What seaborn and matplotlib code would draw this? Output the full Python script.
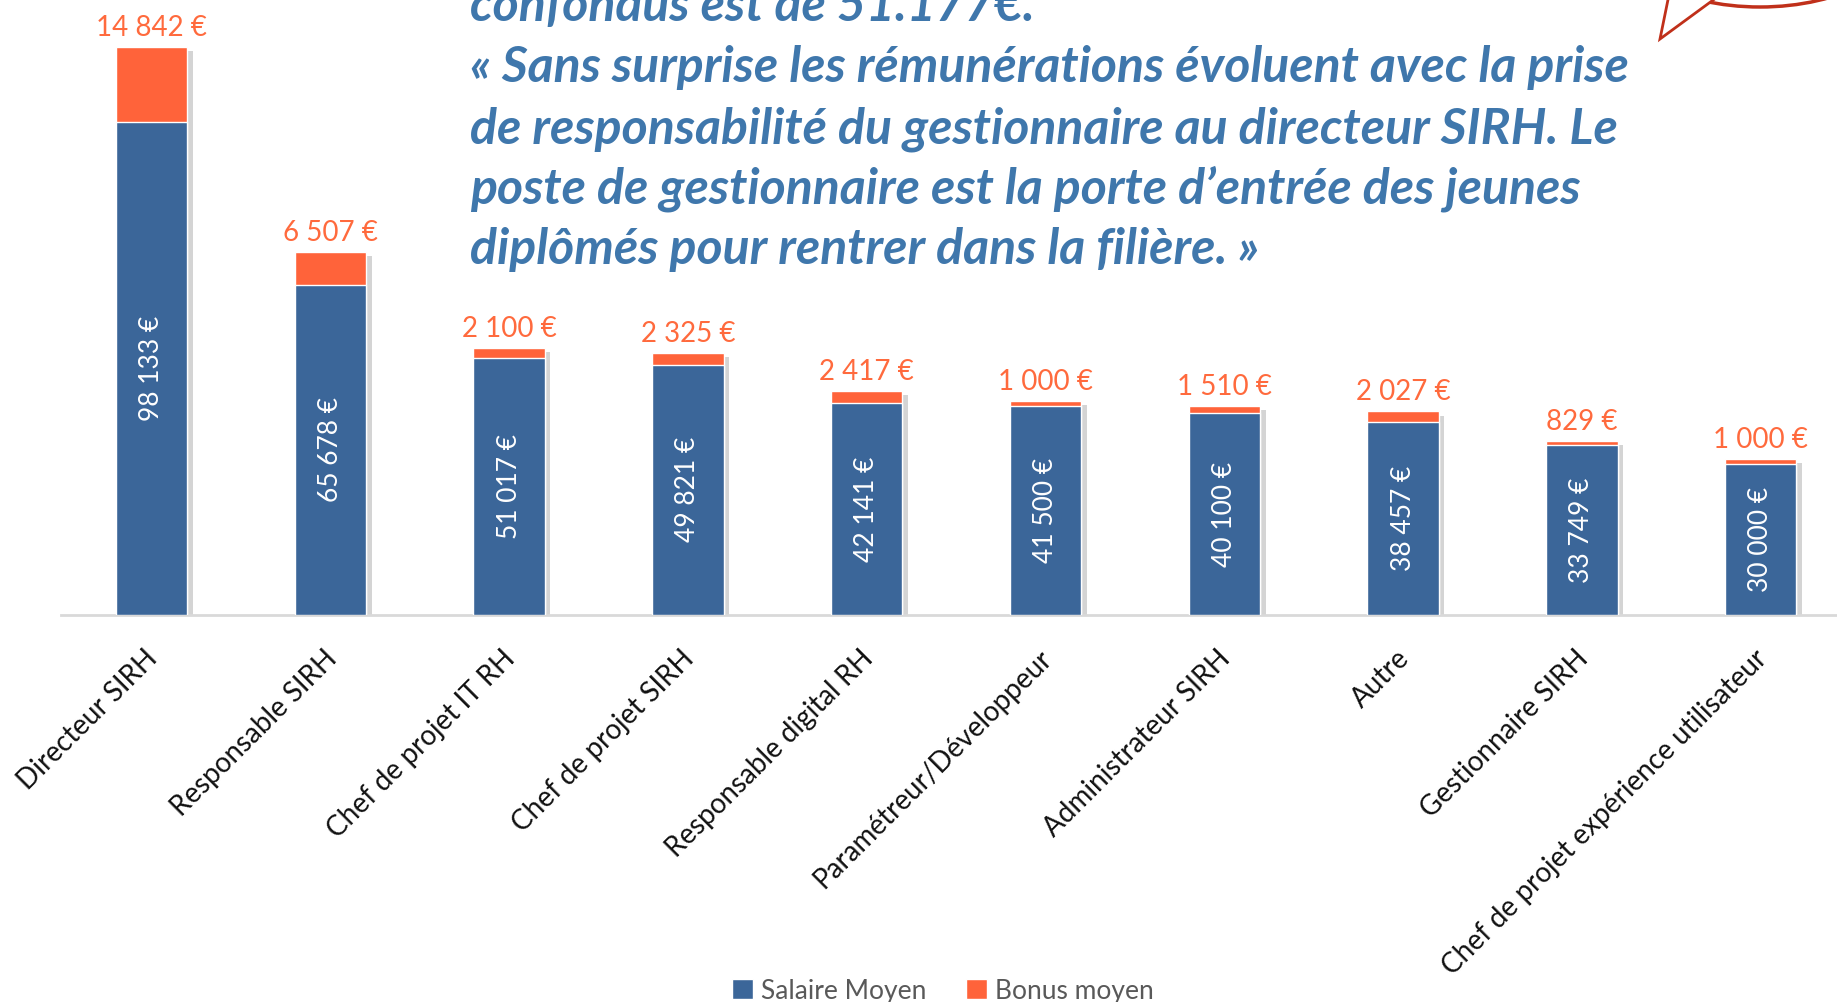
import matplotlib
matplotlib.use("Agg")
import numpy as np
import pandas as pd
import seaborn as sns
import matplotlib.pyplot as plt
from matplotlib import patheffects as pe
from matplotlib import transforms as mtransforms
from matplotlib.patches import Patch, Polygon, Ellipse

# ---------------- data ----------------
categories = ["Directeur SIRH", "Responsable SIRH", "Chef de projet IT RH",
              "Chef de projet SIRH", "Responsable digital RH",
              "Paramétreur/Développeur", "Administrateur SIRH", "Autre",
              "Gestionnaire SIRH", "Chef de projet expérience utilisateur"]
salaire = [98133, 65678, 51017, 49821, 42141, 41500, 40100, 38457, 33749, 30000]
bonus = [14842, 6507, 2100, 2325, 2417, 1000, 1510, 2027, 829, 1000]
series_names = ["Salaire Moyen", "Bonus moyen"]
quote_lines = ["confondus est de 51.177€.",
               "« Sans surprise les rémunérations évoluent avec la prise",
               "de responsabilité du gestionnaire au directeur SIRH. Le",
               "poste de gestionnaire est la porte d’entrée des jeunes",
               "diplômés pour rentrer dans la filière. »"]

BLUE = "#3B6699"
ORANGE = "#FF633A"
ORANGE_TXT = "#FF6A3D"
QUOTE = "#3F77AC"
RED = "#C0301A"

W, H = 1837, 1002

sns.set_theme(style="white")
plt.rcParams["font.family"] = ["Lato", "DejaVu Sans"]

fig = plt.figure(figsize=(W / 100, H / 100), dpi=100)
fig.patch.set_facecolor("white")

def fx(x):
    return x / W

def fy(y):
    return 1 - y / H

ax = fig.add_axes([fx(61), fy(615), 1 - fx(61), 615 / H])

df = pd.DataFrame({"poste": categories, "salaire": salaire, "bonus": bonus})
df["total"] = df["salaire"] + df["bonus"]

sns.barplot(data=df, x="poste", y="total", color=ORANGE, width=0.4,
            saturation=1, ax=ax, zorder=2)
tot_patches = list(ax.patches)
for p in tot_patches:
    p.set_path_effects([pe.SimplePatchShadow(offset=(4, -3), alpha=0.25, shadow_rgbFace="#555555"),
                        pe.Normal()])
sns.barplot(data=df, x="poste", y="salaire", color=BLUE, width=0.4,
            saturation=1, ax=ax, zorder=3)

ax.set_xlim((61 - 151.5) / 178.8, (W - 151.5) / 178.8)
ax.set_ylim(0, 615 / 0.005028)

def fmt(v):
    return f"{v:,}".replace(",", " ") + " €"

for i, (s, b) in enumerate(zip(df["salaire"], df["bonus"])):
    ax.annotate(fmt(b), (i, s + b), xytext=(0, 8), textcoords="offset points",
                ha="center", va="baseline", color=ORANGE_TXT, fontsize=20,
                annotation_clip=False, zorder=5)
    ax.text(i, s / 2, fmt(s), rotation=90, ha="center", va="center",
            color="white", fontsize=19, zorder=5)

for side in ["top", "right", "left"]:
    ax.spines[side].set_visible(False)
ax.spines["bottom"].set_color("#D9D9D9")
ax.spines["bottom"].set_linewidth(2)
ax.set_yticks([])
ax.set_xlabel("")
ax.set_ylabel("")
ax.set_xticks(range(len(categories)))
ax.set_xticklabels(categories, rotation=45, ha="right", va="top",
                   rotation_mode="anchor", fontsize=20, color="#111111")
ax.tick_params(axis="x", length=0, pad=22)
shift = mtransforms.ScaledTranslation(-7 / 100, 0, fig.dpi_scale_trans)
for lab in ax.get_xticklabels():
    lab.set_transform(lab.get_transform() + shift)

# quote text
baselines = [21, 82, 143, 203, 264]
for line, yb in zip(quote_lines, baselines):
    fig.text(fx(470), fy(yb), line, ha="left", va="baseline", fontsize=36,
             fontweight="bold", fontstyle="italic", color=QUOTE)

# speech bubble (partially visible)
ell = Ellipse((fx(1760), fy(-76)), 300 / W, 166 / H, transform=fig.transFigure,
              facecolor="white", edgecolor=RED, lw=2.5, zorder=1)
fig.add_artist(ell)
tail = Polygon([(fx(1672), fy(-20)), (fx(1660), fy(39)), (fx(1720), fy(-5))],
               closed=True, transform=fig.transFigure, facecolor="white",
               edgecolor=RED, lw=2, zorder=2)
fig.add_artist(tail)

# legend
handles = [Patch(facecolor=BLUE, label=series_names[0]),
           Patch(facecolor=ORANGE, label=series_names[1])]
fig.legend(handles=handles, loc="center", bbox_to_anchor=(fx(943), fy(991)),
           ncol=2, frameon=False, fontsize=19, handlelength=0.8,
           handleheight=0.8, handletextpad=0.3, columnspacing=1.5,
           labelcolor="#595959")

fig.savefig("out.png", dpi=100, facecolor="white")
